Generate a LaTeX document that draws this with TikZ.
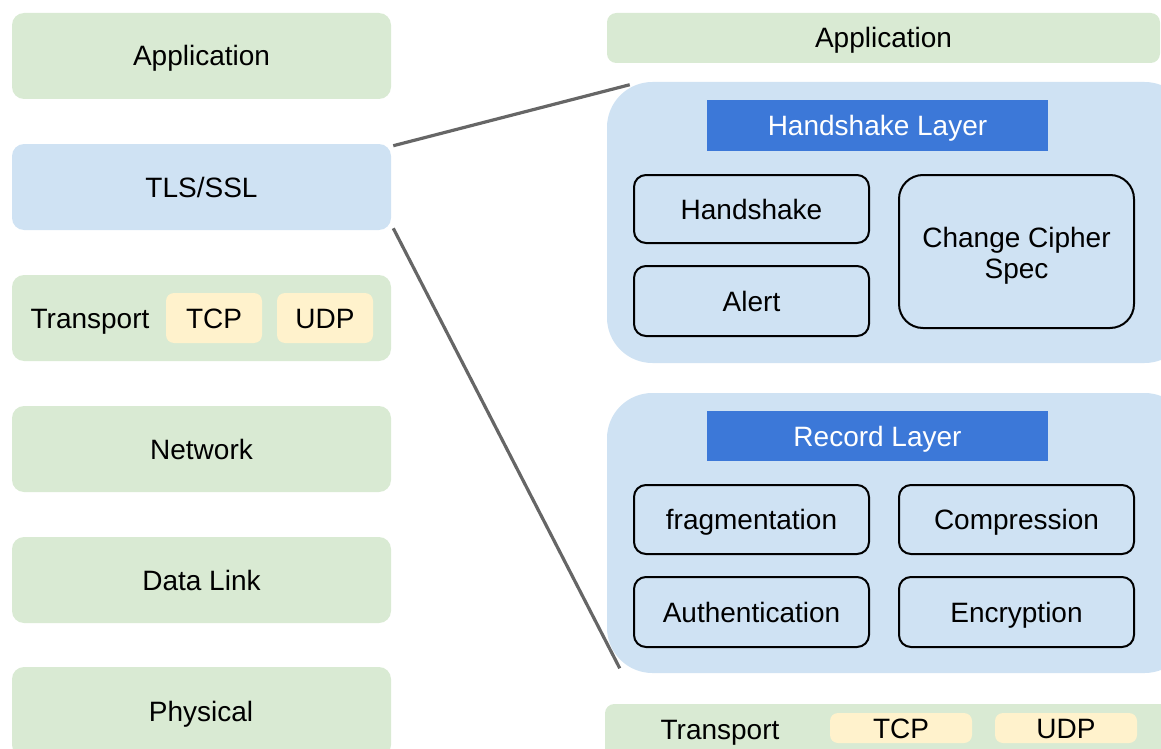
\documentclass[tikz,border=0pt]{standalone}
\usepackage{fontspec}
\setmainfont{Liberation Sans}
\usetikzlibrary{fit,calc,backgrounds}
\definecolor{lgreen}{HTML}{D9EAD3}
\definecolor{lblue}{HTML}{CFE2F3}
\definecolor{dblue}{HTML}{3C78D8}
\definecolor{lyellow}{HTML}{FFF2CC}
\definecolor{lgray}{HTML}{666666}
\tikzset{
  every node/.style={font=\fontsize{21}{25}\selectfont, text=black},
  every label/.style={font=\fontsize{21}{25}\selectfont, inner sep=0pt, text height=15pt, text depth=0pt},
  plaintext/.style={inner sep=0pt, text height=15pt, text depth=0pt},
  layerbox/.style={fill=lgreen, rounded corners=9pt, inner sep=0pt, draw=none},
  tlsbox/.style={fill=lblue, rounded corners=9pt, inner sep=0pt, draw=none},
  protobox/.style={fill=lyellow, rounded corners=6pt, inner sep=0pt, draw=none},
  container/.style={fill=lblue, rounded corners=34pt, inner sep=0pt, draw=none},
  titlebar/.style={fill=dblue, inner sep=0pt, draw=none},
  subbox/.style={fill=lblue, draw=black, line width=1.5pt, rounded corners=9pt, inner sep=0pt},
  bigsub/.style={fill=lblue, draw=black, line width=1.5pt, rounded corners=18pt, inner sep=0pt},
  zoomline/.style={draw=lgray, line width=2.4pt},
}
\begin{document}
\begin{tikzpicture}[x=0.75pt,y=-0.75pt]
\useasboundingbox (0,0) rectangle (1161,749);
\clip (0,0) rectangle (1161,749);
% left stack
\node[layerbox, fit={(12,13)(391,99)}, label=center:Application] (app) {};
\node[tlsbox, fit={(12,144)(391,230)}, label=center:TLS/SSL] (tls) {};
\node[layerbox, fit={(12,275)(391,361)}] (trans) {};
\node[plaintext] (transl) at (90,318) {Transport};
\node[protobox, fit={(166,293)(262,343)}, label=center:TCP] (tcp) {};
\node[protobox, fit={(277,293)(373,343)}, label=center:UDP] (udp) {};
\node[layerbox, fit={(12,406)(391,492)}, label=center:Network] (net) {};
\node[layerbox, fit={(12,537)(391,623)}, label=center:Data Link] (dl) {};
\node[layerbox, fit={(12,667)(391,757)}] (phy) {};
\node[plaintext] (phyl) at (201,711) {Physical};
% right side
\node[layerbox, rounded corners=7pt, fit={(607,13)(1160,63)}, label=center:Application] (app2) {};
\node[container, fit={(607,82)(1190,363)}] (hsc) {};
\node[titlebar, fit={(707,100)(1048,151)}, label={[text=white]center:Handshake Layer}] (hsl) {};
\node[subbox, fit={(634,175)(869,243)}, label=center:Handshake] (hs) {};
\node[subbox, fit={(634,266)(869,336)}, label=center:Alert] (alert) {};
\node[bigsub, fit={(899,175)(1134,328)}] (ccs) {};
\node[plaintext, align=center] (ccst) at ($(ccs.center)+(0,17)$) {Change Cipher\\[-2pt]Spec};
\node[container, fit={(607,393)(1190,673)}] (rec) {};
\node[titlebar, fit={(707,411)(1048,461)}, label={[text=white]center:Record Layer}] (recl) {};
\node[subbox, fit={(634,485)(869,554)}, label=center:fragmentation] (frag) {};
\node[subbox, fit={(899,485)(1134,554)}, label=center:Compression] (comp) {};
\node[subbox, fit={(634,577)(869,647)}, label=center:Authentication] (auth) {};
\node[subbox, fit={(899,577)(1134,647)}, label=center:Encryption] (enc) {};
\node[layerbox, rounded corners=7pt, fit={(605,704)(1175,770)}] (trans2) {};
\node[plaintext] (trans2l) at (720,729) {Transport};
\node[protobox, fit={(830,713)(972,743)}, label=center:TCP] (tcp2) {};
\node[protobox, fit={(995,713)(1137,743)}, label=center:UDP] (udp2) {};
% zoom lines
\begin{pgfonlayer}{background}
\draw[zoomline] ($(tls.north east)+(2,2)$) -- ($(hsc.north west)+(23,3)$);
\draw[zoomline] ($(tls.south east)+(2,-2)$) -- ($(rec.south west)+(13,-5)$);
\end{pgfonlayer}
\end{tikzpicture}
\end{document}
